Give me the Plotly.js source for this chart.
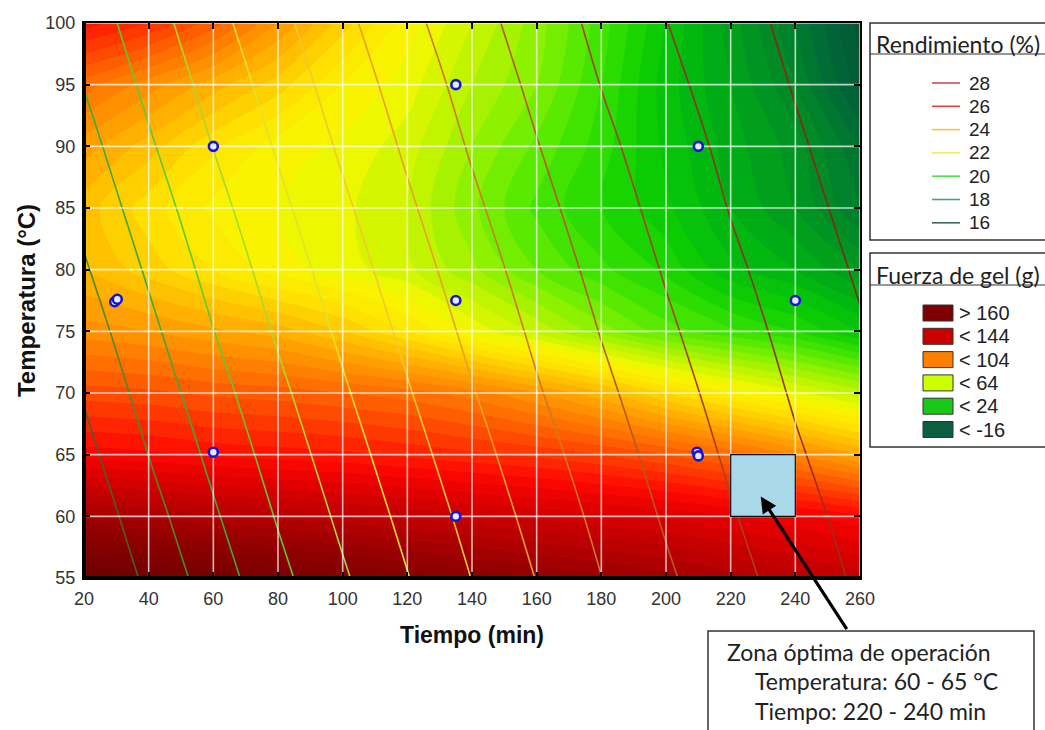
<!DOCTYPE html>
<html>
<head>
<meta charset="utf-8">
<script src="https://cdn.plot.ly/plotly-3.0.1.min.js"></script>
<style>html,body{margin:0;padding:0;background:#fff;}#chart{width:1045px;height:730px;}</style>
</head>
<body>
<div id="chart"></div>
<script>
// ---------------- DATA ----------------
const tiempoGrid = [20, 40, 60, 80, 100, 120, 140, 160, 180, 200, 220, 240, 260];
const temperaturaGrid = [55, 60, 65, 70, 75, 80, 85, 90, 95, 100];

const fuerzaGel = [
  [182, 178, 175, 172, 169, 166, 163, 160, 157, 154, 150, 146, 142],
  [154, 151, 149, 147, 145, 143, 141, 139, 137, 135, 132, 129, 125],
  [126, 125, 123, 122, 121, 119, 117, 115, 112, 108, 103,  96,  88],
  [110, 109, 107, 106, 104, 102,  98,  92,  85,  76,  68,  61,  54],
  [ 94,  92,  89,  86,  80,  72,  63,  55,  46,  38,  33,  28,  20],
  [ 84,  78,  72,  66,  62,  57,  49,  40,  33,  27,  17,  12,   4],
  [ 82,  74,  67,  64,  61,  56,  45,  35,  28,  21,  12,   4,  -8],
  [ 90,  82,  73,  66,  63,  58,  48,  39,  30,  19,  10,   2, -12],
  [102,  94,  86,  78,  68,  62,  52,  44,  32,  18,   8,  -4, -22],
  [122, 116, 106,  92,  78,  66,  56,  46,  34,  20,   6,  -8, -26]
];

const rendimiento = [
  [14.88, 16.21, 17.49, 18.72, 19.87, 20.96, 22.02, 23.03, 23.99, 24.85, 25.67, 26.44, 27.15],
  [15.28, 16.61, 17.87, 19.08, 20.21, 21.28, 22.32, 23.32, 24.25, 25.11, 25.92, 26.66, 27.35],
  [15.69, 17.01, 18.24, 19.43, 20.54, 21.60, 22.63, 23.61, 24.52, 25.35, 26.15, 26.89, 27.54],
  [16.09, 17.39, 18.61, 19.77, 20.87, 21.92, 22.94, 23.91, 24.78, 25.60, 26.37, 27.10, 27.73],
  [16.49, 17.76, 18.98, 20.12, 21.19, 22.23, 23.24, 24.18, 25.04, 25.84, 26.60, 27.29, 27.92],
  [16.89, 18.13, 19.33, 20.44, 21.51, 22.54, 23.53, 24.44, 25.28, 26.08, 26.82, 27.48, 28.11],
  [17.28, 18.50, 19.67, 20.77, 21.83, 22.85, 23.82, 24.70, 25.53, 26.31, 27.04, 27.68, 28.30],
  [17.65, 18.87, 20.02, 21.10, 22.15, 23.15, 24.10, 24.96, 25.77, 26.53, 27.23, 27.87, 28.48],
  [18.03, 19.23, 20.35, 21.42, 22.45, 23.44, 24.36, 25.21, 26.02, 26.76, 27.43, 28.06, 28.67],
  [18.40, 19.57, 20.68, 21.74, 22.76, 23.74, 24.63, 25.46, 26.24, 26.98, 27.62, 28.24, 28.85]
];

// design points
const designTiempo = [29.5, 30.3, 60, 60, 135, 135, 135, 209.6, 210, 210, 240];
const designTemp   = [77.4, 77.6, 90, 65.2, 95, 77.5, 60, 65.2, 64.9, 90, 77.5];

// optimum zone
const zonaTiempo = [220, 240];
const zonaTemp = [60, 65];

// axis ticks
const xTicks = [20, 40, 60, 80, 100, 120, 140, 160, 180, 200, 220, 240, 260];
const yTicks = [55, 60, 65, 70, 75, 80, 85, 90, 95, 100];

// legends
const rendLegendLabels = ['28', '26', '24', '22', '20', '18', '16'];
const rendLegendColors = ['#c05050', '#e04040', '#f5c640', '#eeee50', '#50dc50', '#50a070', '#406858'];
const gelLegendLabels = ['> 160', '< 144', '< 104', '< 64', '< 24', '< -16'];
const gelLegendColors = ['#7f0000', '#c80000', '#ff7f00', '#ccff00', '#19c819', '#0b5e3e'];

const zonaTexto = ['Zona óptima de operación', 'Temperatura: 60 - 65 °C', 'Tiempo: 220 - 240 min'];

// ---------------- STYLE ----------------
const gelScaleStops = [
  [-36, '#0a4434'], [-16, '#006838'], [4, '#009a20'], [14, '#00b810'], [24, '#10d000'],
  [34, '#40e400'], [44, '#80f000'], [54, '#c0f400'], [64, '#f8f800'], [74, '#ffe000'],
  [84, '#ffb800'], [94, '#ff9000'], [104, '#ff6800'], [114, '#ff3800'], [124, '#ff0800'],
  [134, '#e00000'], [144, '#c00000'], [160, '#900000'], [184, '#680000']
];
const gMin = -36, gMax = 184;
const gelScale = gelScaleStops.map(s => [(s[0] - gMin) / (gMax - gMin), s[1]]);

const rendScale = [[0,'#4a5e30'],[0.083,'#4a8a2a'],[0.167,'#3ea83a'],[0.25,'#60c830'],[0.333,'#a8d830'],
  [0.417,'#e0e030'],[0.5,'#f0c830'],[0.583,'#e8a028'],[0.667,'#d07820'],[0.75,'#b85820'],
  [0.833,'#a84020'],[0.917,'#983020'],[1,'#882818']];

const HUMAN = 'Lato, Open Sans, sans-serif';
const SANS = 'Liberation Sans, Arial, sans-serif';

const PL = 84, PR = 860, PT = 23, PB = 578;
const px = v => (v - PL) / (PR - PL);
const py = v => (PB - v) / (PB - PT);

// grid lines (drawn above the filled contour)
const gx = [], gy = [];
xTicks.forEach(t => { gx.push(t, t, null); gy.push(yTicks[0], yTicks[yTicks.length - 1], null); });
yTicks.forEach(t => { gx.push(xTicks[0], xTicks[xTicks.length - 1], null); gy.push(t, t, null); });

const traces = [
  {
    type: 'contour', x: tiempoGrid, y: temperaturaGrid, z: fuerzaGel,
    zmin: gMin, zmax: gMax, zauto: false, autocontour: false,
    contours: { start: gMin, end: gMax, size: 4, coloring: 'fill' },
    colorscale: gelScale, line: { width: 0, smoothing: 1 },
    showscale: false, hoverinfo: 'skip'
  },
  {
    type: 'contour', x: tiempoGrid, y: temperaturaGrid, z: rendimiento,
    zmin: 16, zmax: 28, zauto: false, autocontour: false,
    contours: { start: 16, end: 28, size: 1, coloring: 'lines' },
    colorscale: rendScale, line: { width: 1.6, smoothing: 1 },
    showscale: false, hoverinfo: 'skip'
  },
  {
    type: 'scatter', mode: 'lines', x: gx, y: gy,
    line: { color: 'rgba(255,255,255,0.72)', width: 1.6 },
    hoverinfo: 'skip', showlegend: false
  },
  {
    type: 'scatter', mode: 'markers', x: designTiempo, y: designTemp,
    marker: { symbol: 'circle', size: 9, color: '#e8e8ff', line: { color: '#1414d2', width: 2.6 } },
    hoverinfo: 'skip', showlegend: false
  }
];

const shapes = [];
const annotations = [];

// optimum zone rectangle
shapes.push({ type: 'rect', xref: 'x', yref: 'y', x0: zonaTiempo[0], x1: zonaTiempo[1], y0: zonaTemp[0], y1: zonaTemp[1],
  fillcolor: '#a8d8ea', line: { color: '#111', width: 1.2 }, layer: 'above' });

// thicker left / bottom frame
shapes.push({ type: 'line', xref: 'paper', yref: 'paper', x0: 0, x1: 0, y0: 0, y1: 1, line: { color: '#000', width: 4 } });
shapes.push({ type: 'line', xref: 'paper', yref: 'paper', x0: 0, x1: 1, y0: 0, y1: 0, line: { color: '#000', width: 4 } });

// legend 1 : Rendimiento
const boxR = 1052;
shapes.push({ type: 'rect', xref: 'paper', yref: 'paper', x0: px(870), x1: px(boxR), y0: py(240), y1: py(23),
  fillcolor: '#fff', line: { color: '#333', width: 1.5 } });
shapes.push({ type: 'line', xref: 'paper', yref: 'paper', x0: px(870), x1: px(boxR), y0: py(54), y1: py(54),
  line: { color: '#333', width: 1.2 } });
annotations.push({ xref: 'paper', yref: 'paper', x: px(874), y: py(44), xanchor: 'left', yanchor: 'middle',
  text: 'Rendimiento (%)', showarrow: false, font: { family: HUMAN, size: 23, color: '#222' } });
rendLegendLabels.forEach((lab, i) => {
  const yc = 83 + i * 23.3;
  shapes.push({ type: 'line', xref: 'paper', yref: 'paper', x0: px(932), x1: px(960), y0: py(yc), y1: py(yc),
    line: { color: rendLegendColors[i], width: 1.6 } });
  annotations.push({ xref: 'paper', yref: 'paper', x: px(967), y: py(yc), xanchor: 'left', yanchor: 'middle',
    text: lab, showarrow: false, font: { family: SANS, size: 19, color: '#222' } });
});

// legend 2 : Fuerza de gel
shapes.push({ type: 'rect', xref: 'paper', yref: 'paper', x0: px(870), x1: px(boxR), y0: py(447), y1: py(253),
  fillcolor: '#fff', line: { color: '#333', width: 1.5 } });
shapes.push({ type: 'line', xref: 'paper', yref: 'paper', x0: px(870), x1: px(boxR), y0: py(285), y1: py(285),
  line: { color: '#333', width: 1.2 } });
annotations.push({ xref: 'paper', yref: 'paper', x: px(874), y: py(275), xanchor: 'left', yanchor: 'middle',
  text: 'Fuerza de gel (g)', showarrow: false, font: { family: HUMAN, size: 23, color: '#222' } });
gelLegendLabels.forEach((lab, i) => {
  const yc = 313 + i * 23.3;
  shapes.push({ type: 'rect', xref: 'paper', yref: 'paper', x0: px(923), x1: px(953), y0: py(yc + 8), y1: py(yc - 8),
    fillcolor: gelLegendColors[i], line: { color: '#333', width: 1 } });
  annotations.push({ xref: 'paper', yref: 'paper', x: px(957), y: py(yc), xanchor: 'left', yanchor: 'middle',
    text: lab, showarrow: false, font: { family: SANS, size: 20, color: '#222' } });
});

// optimum zone text box
shapes.push({ type: 'rect', xref: 'paper', yref: 'paper', x0: px(708), x1: px(1034), y0: py(745), y1: py(631),
  fillcolor: '#fff', line: { color: '#333', width: 1.5 } });
const zonaX = [725, 753, 753], zonaY = [652, 681, 711];
zonaTexto.forEach((t, i) => {
  annotations.push({ xref: 'paper', yref: 'paper', x: px(zonaX[i]), y: py(zonaY[i]), xanchor: 'left', yanchor: 'middle',
    text: t, showarrow: false, font: { family: HUMAN, size: 23, color: '#222' } });
});

// arrow
annotations.push({ xref: 'x', yref: 'y', x: 229.3, y: 61.6, text: '', showarrow: true,
  axref: 'pixel', ayref: 'pixel', ax: 87, ay: 134, arrowhead: 2, arrowsize: 1, arrowwidth: 3.2,
  arrowcolor: '#000', standoff: 0, startstandoff: 0, font: { size: 1 } });

const layout = {
  width: 1045, height: 730,
  margin: { l: PL, r: 1045 - PR, t: PT, b: 730 - PB, pad: 0 },
  paper_bgcolor: '#fff', plot_bgcolor: '#fff',
  showlegend: false,
  xaxis: {
    range: [20, 260], tickvals: xTicks, ticktext: xTicks.map(String),
    ticks: 'inside', ticklen: 6, tickwidth: 2, tickcolor: '#000',
    showline: true, linecolor: '#000', linewidth: 2, mirror: 'ticks',
    showgrid: false, zeroline: false, layer: 'above traces',
    tickfont: { family: SANS, size: 18, color: '#333' }, ticklabelstandoff: 3,
    title: { text: '<b>Tiempo (min)</b>', font: { family: SANS, size: 23, color: '#111' }, standoff: 19 },
    automargin: false
  },
  yaxis: {
    range: [55, 100], tickvals: yTicks, ticktext: yTicks.map(String),
    ticks: 'inside', ticklen: 6, tickwidth: 2, tickcolor: '#000',
    showline: true, linecolor: '#000', linewidth: 2, mirror: 'ticks',
    showgrid: false, zeroline: false, layer: 'above traces',
    tickfont: { family: SANS, size: 18, color: '#333' }, ticklabelstandoff: 3,
    title: { text: '<b>Temperatura (°C)</b>', font: { family: SANS, size: 24, color: '#111' }, standoff: 3 },
    automargin: false
  },
  shapes: shapes,
  annotations: annotations
};

Plotly.newPlot('chart', traces, layout, { staticPlot: true, displayModeBar: false });
</script>
</body>
</html>
